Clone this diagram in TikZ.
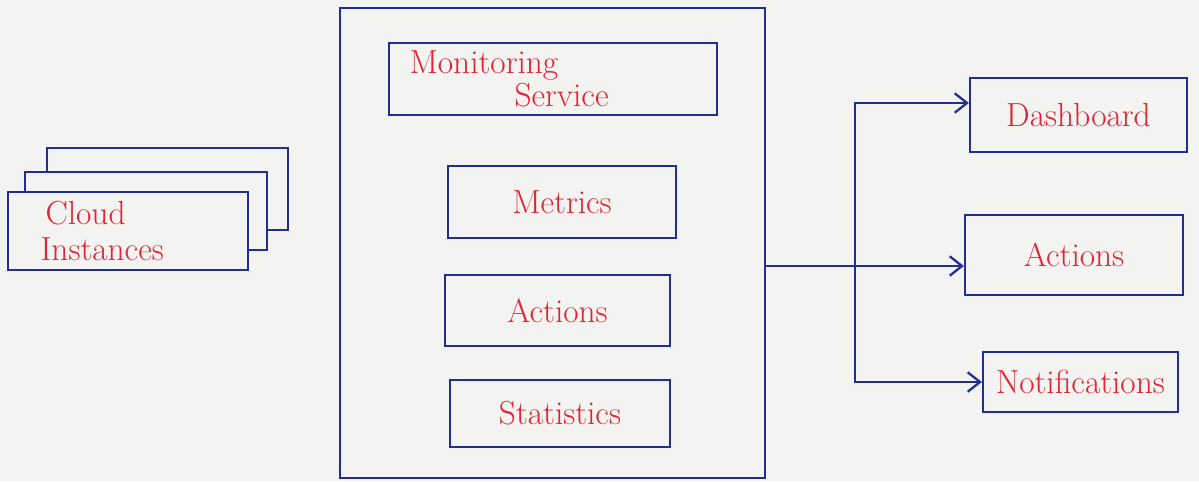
\documentclass[tikz,border=0pt]{standalone}
\usetikzlibrary{arrows.meta, positioning}
\definecolor{ink}{RGB}{35,45,150}
\definecolor{pen}{RGB}{225,35,50}
\definecolor{paper}{RGB}{243,243,241}

\begin{document}
\begin{tikzpicture}[
  x=0.02cm, y=-0.02cm,
  >={Straight Barb[length=7pt, width=11pt]},
  every node/.style = {font=\fontsize{19}{22}\selectfont, text=pen},
  %-- block styles -------------------------------------------------------
  box/.style   = {draw=ink, line width=1.3pt, fill=paper,
                  align=center, inner sep=2pt},
  wire/.style  = {draw=ink, line width=1.3pt},
  arrow/.style = {wire, ->},
]

% ── Paper ─────────────────────────────────────────────────────────────────────
\fill[paper] (0,0) rectangle (1199,481);
\useasboundingbox (0,0) rectangle (1199,481);

% ── Cloud instances (stacked sheets) ──────────────────────────────────────────
\node[box, minimum width=4.82cm, minimum height=1.64cm] (cloudC) at (167.5,189) {};
\node[box, minimum width=4.84cm, minimum height=1.56cm] (cloudB) at (146,211) {};
\node[box, minimum width=4.80cm, minimum height=1.56cm,
      text width=4.5cm, align=left] (cloudA)
      at (128,231) {\hspace*{0.6cm}Cloud\\[-1pt]\hspace*{0.5cm}Instances};

% ── Monitoring platform ───────────────────────────────────────────────────────
\node[box, minimum width=8.5cm, minimum height=9.4cm] (platform) at (552.5,243) {};

\node[box, minimum width=6.56cm, minimum height=1.44cm,
      text width=6.3cm, align=left] (service) at (553,79)
      {\hspace*{0.28cm}Monitoring\\[-3pt]\hspace*{2.38cm}Service};
\node[box, minimum width=4.56cm, minimum height=1.44cm] (metrics) at (562,202)   {Metrics};
\node[box, minimum width=4.50cm, minimum height=1.42cm] (actions) at (557.5,310.5) {Actions};
\node[box, minimum width=4.40cm, minimum height=1.34cm] (stats)   at (560,413.5) {Statistics};

% ── Outputs ───────────────────────────────────────────────────────────────────
\node[box, minimum width=4.34cm, minimum height=1.48cm] (dash)  at (1078.5,115) {Dashboard};
\node[box, minimum width=4.36cm, minimum height=1.60cm] (act)   at (1074,255)   {Actions};
\node[box, minimum width=3.90cm, minimum height=1.20cm] (notif) at (1080.5,382) {Notifications};

% ── Platform -> outputs ───────────────────────────────────────────────────────
\coordinate (split) at (855,266);
\draw[wire]  (platform.east|-split) -- (split);
\draw[arrow] (split) |- ([yshift=0.24cm]dash.west);
\draw[arrow] (split) -- (split-|act.west);
\draw[arrow] (split) |- (notif.west);

\end{tikzpicture}
\end{document}
